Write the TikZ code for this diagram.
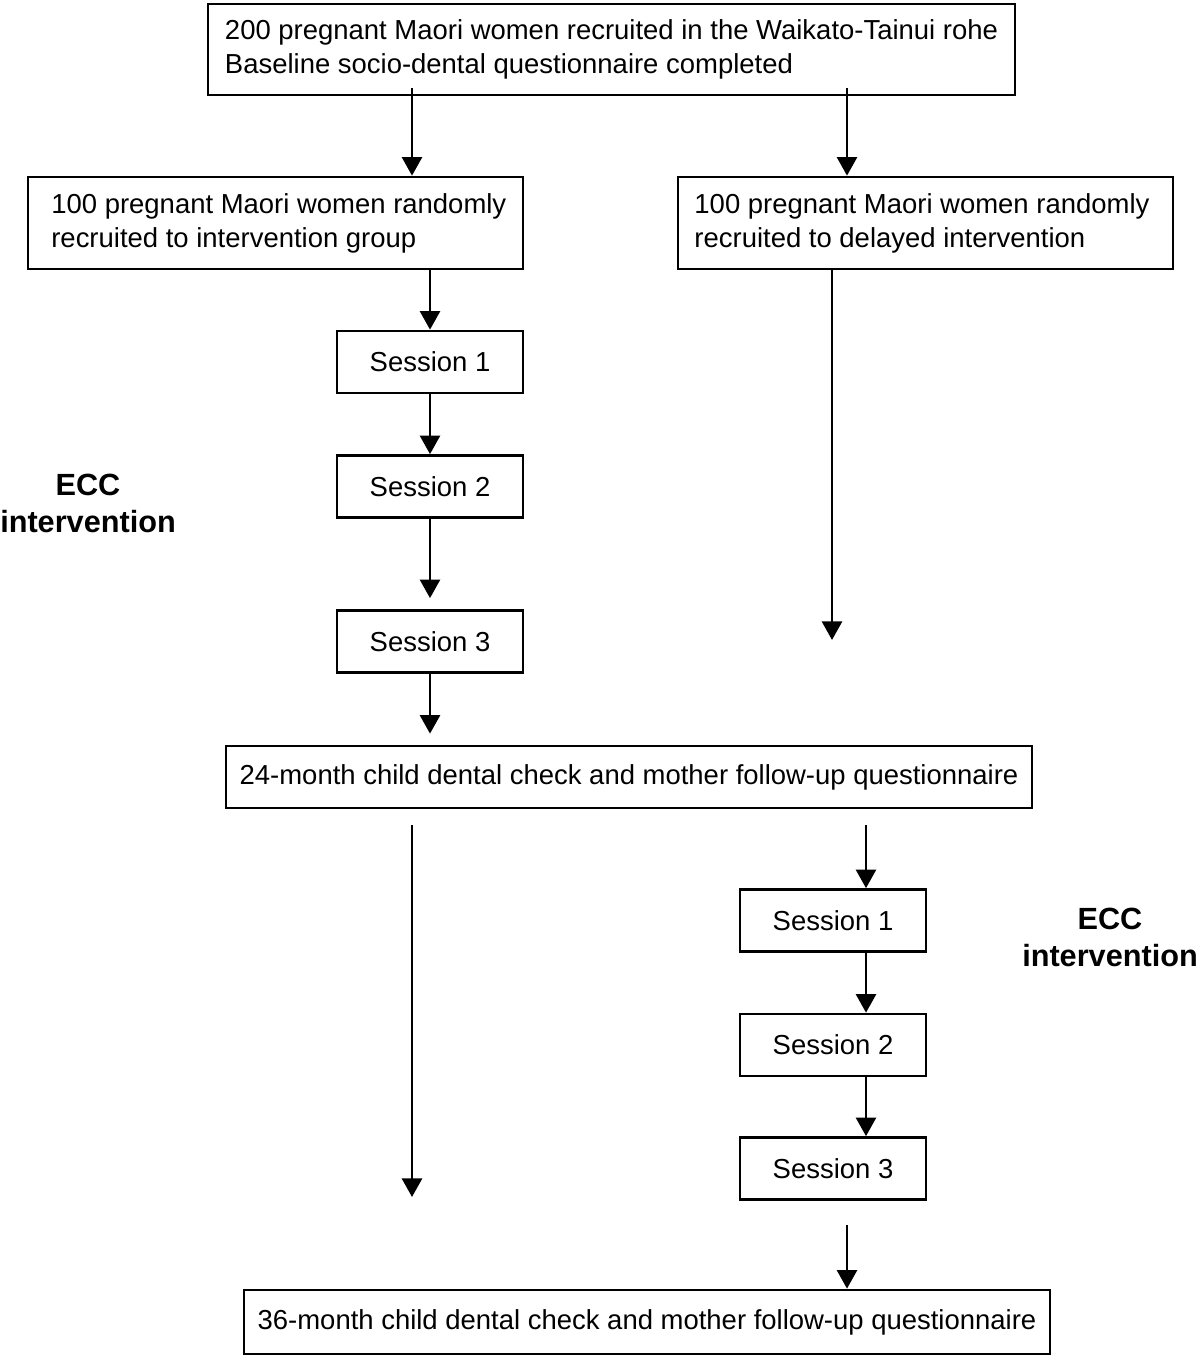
\documentclass[tikz,border=0pt]{standalone}
\usepackage{fontspec}
\setmainfont{Liberation Sans}
\usetikzlibrary{arrows.meta}
\begin{document}
\begin{tikzpicture}[x=0.75pt,y=-0.75pt,
  every node/.style={font=\fontsize{20.6pt}{25.5pt}\selectfont},
  box/.style={draw,line width=2pt,align=left,inner sep=0pt},
  sess/.style={box,align=center,minimum width=139.5pt,minimum height=46.5pt},
  wide/.style={box,align=center,minimum width=604.5pt,minimum height=46.5pt},
  grp/.style={box,minimum width=371.25pt,minimum height=69pt},
  lbl/.style={font=\fontsize{23pt}{27.75pt}\selectfont\bfseries,align=center},
  arr/.style={line width=2.2pt,-{Triangle[width=15pt,length=14pt]}}]
\useasboundingbox (0,0) rectangle (1200,1356);
% nodes
\node[box,minimum width=605.25pt,minimum height=68.25pt] (top) at (611.5,49.5)
  {200 pregnant Maori women recruited in the Waikato-Tainui rohe\\Baseline socio-dental questionnaire completed};
\node[grp] (grpL) at (275.5,223) {\hspace*{5pt}100 pregnant Maori women randomly\\\hspace*{5pt}recruited to intervention group};
\node[grp] (grpR) at (925.5,223) {\hspace*{5pt}100 pregnant Maori women randomly\\\hspace*{5pt}recruited to delayed intervention\phantom{ group}};
\node[sess] (s1L) at (430,362) {Session 1};
\node[sess] (s2L) at (430,486.5) {Session 2};
\node[sess] (s3L) at (430,641.5) {Session 3};
\node[wide] (m24) at (629,777) {24-month child dental check and mother follow-up questionnaire};
\node[sess] (s1R) at (833,920.5) {Session 1};
\node[sess] (s2R) at (833,1045) {Session 2};
\node[sess] (s3R) at (833,1168.5) {Session 3};
\node[wide,minimum height=48pt] (m36) at (647,1322) {36-month child dental check and mother follow-up questionnaire};
\node[lbl] (eccL) at (88,503) {ECC\\intervention};
\node[lbl] (eccR) at (1110,937) {ECC\\intervention};
% helper coordinates
\coordinate (c412) at (412,0);
\coordinate (c847) at (847,0);
\coordinate (c866) at (866,0);
\coordinate (c832) at (832,0);
\coordinate (endR) at (832,640);
\coordinate (startL) at (412,825);
\coordinate (endL) at (412,1197);
\coordinate (start866) at (866,825);
\coordinate (start847) at (847,1225);
% connectors
\draw[arr] ([yshift=6pt]top.south -| c412) -- (grpL.north -| c412);
\draw[arr] ([yshift=6pt]top.south -| c847) -- (grpR.north -| c847);
\draw[arr] (grpL.south -| s1L) -- (s1L.north);
\draw[arr] (s1L) -- (s2L);
\draw[arr,shorten >=8.25pt] (s2L) -- (s3L);
\draw[arr,shorten >=8.25pt] (s3L.south) -- (m24.north -| s3L);
\draw[arr] (grpR.south -| c832) -- (endR);
\draw[arr] (startL) -- (endL);
\draw[arr] (start866) -- (s1R.north -| c866);
\draw[arr] (s1R.south -| c866) -- (s2R.north -| c866);
\draw[arr] (s2R.south -| c866) -- (s3R.north -| c866);
\draw[arr] (start847) -- (m36.north -| c847);
\end{tikzpicture}
\end{document}
